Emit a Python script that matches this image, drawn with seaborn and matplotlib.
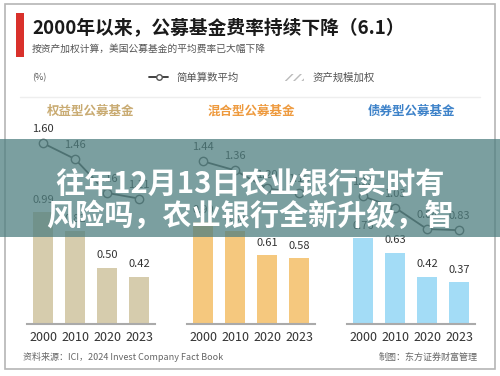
import numpy as np
import matplotlib
matplotlib.use("Agg")
import matplotlib.pyplot as plt
from matplotlib.patches import Rectangle, Patch
from matplotlib.lines import Line2D
import seaborn as sns

sns.set_theme(style="white")
plt.rcParams['font.family'] = ['Noto Sans CJK SC', 'DejaVu Sans']

# data
years = ['2000', '2010', '2020', '2023']
panels = ['权益型公募基金', '混合型公募基金', '债券型公募基金']
simple_avg = [[1.60, 1.46, 1.16, 1.11],
              [1.44, 1.36, 1.20, 1.16],
              [1.13, 1.03, 0.84, 0.83]]
asset_weighted = [[0.99, 0.82, 0.50, 0.42],
                  [0.90, 0.82, 0.61, 0.58],
                  [0.76, 0.63, 0.42, 0.37]]
bar_colors = ['#d6ccad', '#f5c87e', '#a3dcf6']
title_colors = ['#c9ab72', '#ee9a3e', '#3d82c9']

W, H = 500, 376
fig = plt.figure(figsize=(5, 3.76), dpi=100)

def fx(px):
    return px / W

def fy(py):
    return 1 - py / H

# card border
fig.patches.append(Rectangle((fx(5), fy(369)), fx(490), 365 / H, transform=fig.transFigure,
                             fill=False, edgecolor='#b5b5b5', linewidth=1.2))
# red marker at the title
fig.patches.append(Rectangle((fx(16), fy(57)), fx(8), 44 / H, transform=fig.transFigure,
                             facecolor='#d9312b', edgecolor='none'))
fig.text(fx(32), fy(28), '2000年以来，公募基金费率持续下降（6.1）', fontsize=13.5,
         fontweight='bold', color='#1a1a1a', va='center')
fig.text(fx(32), fy(49), '按资产加权计算，美国公募基金的平均费率已大幅下降', fontsize=7,
         color='#555555', va='center')
fig.text(fx(32), fy(78), '(%)', fontsize=6.5, color='#555555', va='center')

# separator
fig.lines.append(Line2D([fx(20), fx(480)], [fy(97), fy(97)], transform=fig.transFigure,
                        color='#eeeeee', linewidth=1))

# panels
lefts = [27, 187, 347]
base_y, top_y = 324, 130
scale = 113.0
for i in range(3):
    ax = fig.add_axes([fx(lefts[i]), fy(base_y), fx(128), (base_y - top_y) / H])
    sns.barplot(x=years, y=asset_weighted[i], ax=ax, color=bar_colors[i], width=0.65,
                saturation=1, edgecolor='none')
    sns.lineplot(x=np.arange(4), y=simple_avg[i], ax=ax, color='#4a4a4a', linewidth=1.3,
                 marker='o', markersize=6, markerfacecolor='white',
                 markeredgecolor='#555555', markeredgewidth=1)
    for j in range(4):
        ax.annotate(f'{asset_weighted[i][j]:.2f}', (j, asset_weighted[i][j]),
                    xytext=(0, 9), textcoords='offset points', ha='center', va='center',
                    fontsize=8, color='#333333')
        ax.annotate(f'{simple_avg[i][j]:.2f}', (j, simple_avg[i][j]),
                    xytext=(0, 10), textcoords='offset points', ha='center', va='center',
                    fontsize=8, color='#333333')
    ax.set_xlim(-0.5, 3.5)
    ax.set_ylim(0, (base_y - top_y) / scale)
    ax.set_yticks([])
    ax.set_ylabel('')
    for s in ['top', 'right', 'left']:
        ax.spines[s].set_visible(False)
    ax.spines['bottom'].set_color('#aaaaaa')
    ax.spines['bottom'].set_linewidth(1.5)
    ax.tick_params(axis='x', length=0, labelsize=9, labelcolor='#333333', pad=5)
    ax.set_facecolor('none')
    fig.text(fx(lefts[i] + 64), fy(111), panels[i], fontsize=9, fontweight='bold',
             color=title_colors[i], ha='center', va='center')

# legend
fig.legend(handles=[Line2D([0], [0], color='#333333', linewidth=1.3, marker='o',
                           markersize=4, markerfacecolor='white', markeredgecolor='#555555'),
                    Patch(facecolor='white', edgecolor='#bbbbbb', hatch='////', linewidth=0)],
           labels=['简单算数平均', '资产规模加权'], loc='center', bbox_to_anchor=(fx(262), fy(78)),
           ncol=2, frameon=False, fontsize=7.5, handlelength=1.8, columnspacing=4.5,
           labelcolor='#555555')

# footer
fig.text(fx(23), fy(357), '资料来源：ICI，2024 Invest Company Fact Book', fontsize=6.5,
         color='#666666', va='center')
fig.text(fx(478), fy(357), '制图：东方证券财富管理', fontsize=6.5, color='#666666',
         va='center', ha='right')

# overlay band with headline
fig.patches.append(Rectangle((0, fy(237)), 1, 98 / H, transform=fig.transFigure,
                             facecolor='#4f7f80', alpha=0.75, edgecolor='none', zorder=10))
fig.text(0.5, fy(184), '往年12月13日农业银行实时有', fontsize=21, fontweight='bold',
         color='white', ha='center', va='center', zorder=11)
fig.text(0.5, fy(216), '风险吗，农业银行全新升级，智', fontsize=21, fontweight='bold',
         color='white', ha='center', va='center', zorder=11)

fig.savefig('out.png', dpi=100)
